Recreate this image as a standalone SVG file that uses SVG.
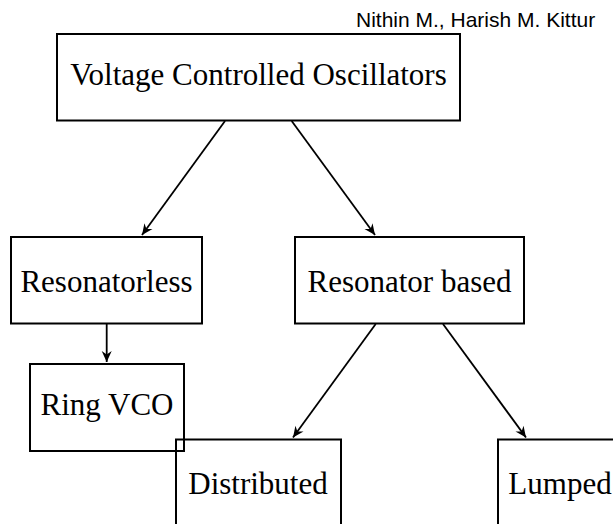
<svg xmlns="http://www.w3.org/2000/svg" width="613" height="524" viewBox="0 0 613 524">
<style>
.box{fill:none;stroke:#000;stroke-width:2}
.lbl{font-family:"Liberation Serif","Times New Roman",serif;font-size:31px;fill:#000;text-anchor:middle}
.conn{stroke:#000;stroke-width:1.8;fill:none;marker-end:url(#arr)}
.auth{font-family:"Liberation Sans",Arial,sans-serif;font-size:21px;fill:#000}
</style>
<defs>
<marker id="arr" viewBox="-12 -6 13 12" refX="0" refY="0" markerUnits="userSpaceOnUse" markerWidth="13" markerHeight="12" orient="auto">
<path d="M0,0 L-11,-5 L-7.5,0 L-11,5 Z" fill="#000"/>
</marker>
</defs>
<rect width="613" height="524" fill="#fff"/>
<text class="auth" x="356" y="27">Nithin M., Harish M. Kittur</text>
<g id="connectors">
<line class="conn" x1="225" y1="121" x2="142" y2="235"/>
<line class="conn" x1="291.7" y1="121" x2="375" y2="235"/>
<line class="conn" x1="106.7" y1="324" x2="106.7" y2="362"/>
<line class="conn" x1="375.7" y1="324" x2="293" y2="437.5"/>
<line class="conn" x1="443" y1="324" x2="526" y2="437.5"/>
</g>
<g id="vco">
<rect class="box" x="57" y="34" width="403" height="86.5"/>
<text class="lbl" x="258.5" y="85">Voltage Controlled Oscillators</text>
</g>
<g id="resonatorless">
<rect class="box" x="11" y="237" width="191" height="86.5"/>
<text class="lbl" x="106.5" y="292">Resonatorless</text>
</g>
<g id="resonator-based">
<rect class="box" x="295" y="237" width="229" height="86.5"/>
<text class="lbl" x="409.5" y="292">Resonator based</text>
</g>
<g id="ring-vco">
<rect class="box" x="30" y="364" width="154" height="87"/>
<text class="lbl" x="107" y="415">Ring VCO</text>
</g>
<g id="distributed">
<rect class="box" x="176" y="439.5" width="165" height="90"/>
<text class="lbl" x="258" y="494">Distributed</text>
</g>
<g id="lumped">
<rect class="box" x="498" y="439.5" width="124" height="90"/>
<text class="lbl" x="560" y="494">Lumped</text>
</g>
</svg>
